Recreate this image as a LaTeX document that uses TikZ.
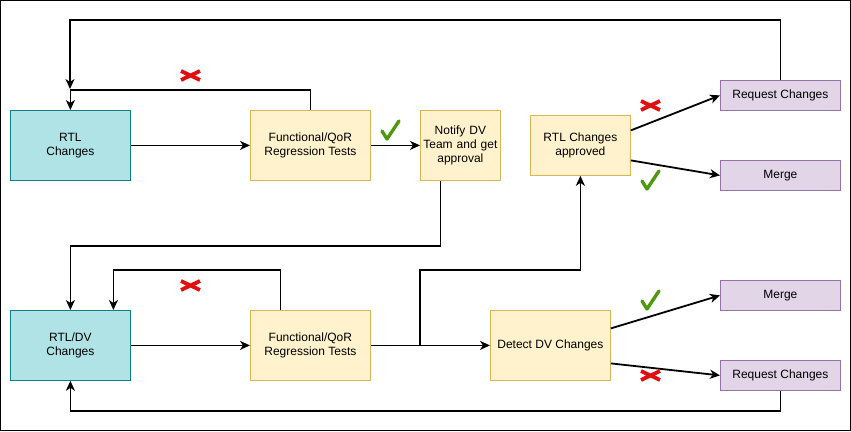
\documentclass[tikz,border=0pt]{standalone}
\usepackage{fontspec}
\setmainfont{Liberation Sans}
\usetikzlibrary{arrows.meta}
\definecolor{cyf}{HTML}{B0E3E6}
\definecolor{cys}{HTML}{0E8088}
\definecolor{yef}{HTML}{FFF2CC}
\definecolor{yes}{HTML}{D6B656}
\definecolor{puf}{HTML}{E1D5E7}
\definecolor{pus}{HTML}{9673A6}
\definecolor{okg}{HTML}{4D9A0F}
\definecolor{nor}{HTML}{E01010}
\tikzset{
  box/.style={draw, line width=0.8pt, align=center, inner sep=2pt, font=\fontsize{12}{14}\selectfont, anchor=north west},
  cyanbox/.style={box, fill=cyf, draw=cys},
  yelbox/.style={box, fill=yef, draw=yes},
  purbox/.style={box, fill=puf, draw=pus},
  arr/.style={line width=1.8pt, -{Stealth[length=10pt,width=9pt,inset=3pt]}},
  okmark/.style={draw=okg, line width=3.4pt, line cap=round, line join=round},
  nomark/.style={draw=nor, line width=3.8pt},
}
\begin{document}
\begin{tikzpicture}[x=1pt,y=-1pt]
\useasboundingbox (0,0) rectangle (851,431);
\draw[line width=1pt] (0.5,0.5) rectangle (850.5,430.5);
% nodes
\node[cyanbox, minimum width=120pt, minimum height=70pt] (rtl) at (10,110) {RTL\\Changes};
\node[yelbox, minimum width=120pt, minimum height=70pt] (ft) at (250,110) {Functional/QoR\\Regression Tests};
\node[yelbox, minimum width=80pt, minimum height=70pt, text width=76pt] (nt) at (420,110) {Notify DV\\Team and get\\approval};
\node[yelbox, minimum width=100pt, minimum height=60pt] (ap) at (530,115) {RTL Changes\\approved};
\node[purbox, minimum width=120pt, minimum height=30pt] (rq1) at (720,80) {Request Changes};
\node[purbox, minimum width=120pt, minimum height=30pt] (mg1) at (720,160) {Merge};
\node[cyanbox, minimum width=120pt, minimum height=70pt] (rtldv) at (10,310) {RTL/DV\\Changes};
\node[yelbox, minimum width=120pt, minimum height=70pt] (ft2) at (250,310) {Functional/QoR\\Regression Tests};
\node[yelbox, minimum width=120pt, minimum height=70pt] (det) at (490,310) {Detect DV Changes};
\node[purbox, minimum width=120pt, minimum height=30pt] (mg2) at (720,280) {Merge};
\node[purbox, minimum width=120pt, minimum height=30pt] (rq2) at (720,360) {Request Changes};
\coordinate (j1) at (70,89);
\coordinate (j2) at (420,345);
% connectors
\draw[arr] (rtl) -- (ft);
\draw[arr] (ft) -- (nt);
\draw[arr] (ft.north) -- ++(0,-20) -| (rtl.north);
\draw[arr] (rq1.north) -- ++(0,-60) -| (j1);
\draw[arr] ([xshift=-20pt]nt.south) -- ++(0,65) -| (rtldv.north);
\draw[arr] ([xshift=-30pt]ft2.north) -- ++(0,-40) -| ([xshift=43pt]rtldv.north);
\draw[arr] (rtldv) -- (ft2);
\draw[arr] (ft2) -- (det);
\draw[arr] (j2) -- (420,270) -| (ap.south);
\draw[arr] ([yshift=15pt]ap.east) -- (rq1.west);
\draw[arr] ([yshift=-15pt]ap.east) -- (mg1.west);
\draw[arr] ([yshift=17pt]det.east) -- (mg2.west);
\draw[arr] ([yshift=-18pt]det.east) -- (rq2.west);
\draw[arr] (rq2.south) -- ++(0,20) -| (rtldv.south);
% marks
\path[nomark] (181,71) -- (200,80) (181,80) -- (200,71);
\path[nomark] (181,281) -- (200,290) (181,290) -- (200,281);
\path[nomark] (641,101) -- (660,110) (641,110) -- (660,101);
\path[nomark] (641,371) -- (660,380) (641,380) -- (660,371);
\path[okmark] (382,131) -- (387,139) -- (399,121);
\path[okmark] (642,181) -- (647,189) -- (659,171);
\path[okmark] (642,301) -- (647,309) -- (659,291);
\end{tikzpicture}
\end{document}
